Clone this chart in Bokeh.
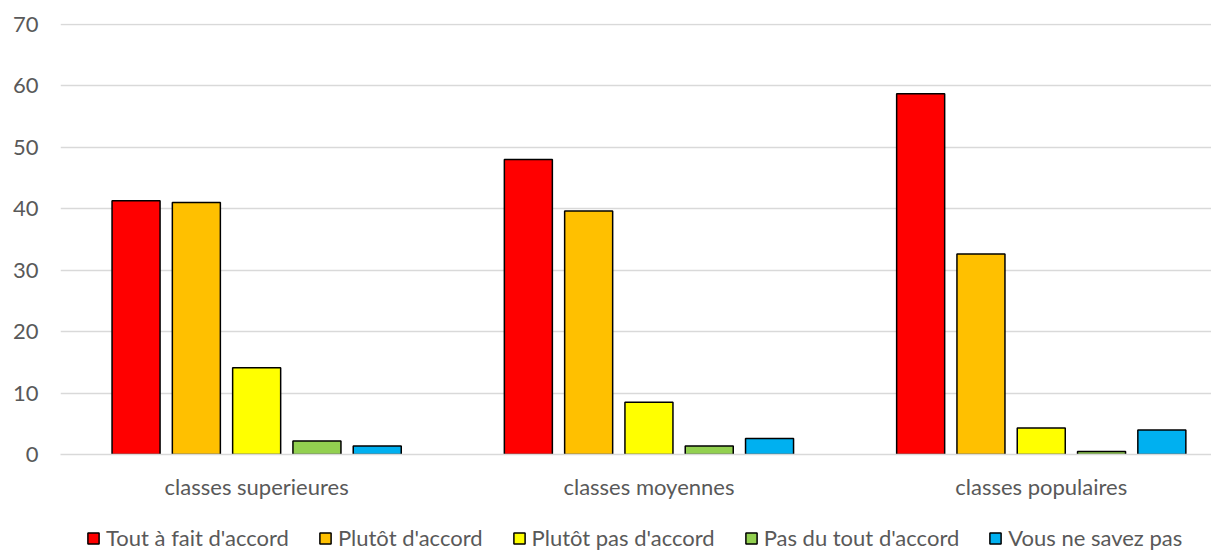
import numpy as np
from bokeh.plotting import figure
from bokeh.layouts import column
from bokeh.models import Range1d, Legend, LegendItem, ColumnDataSource, FixedTicker
from bokeh.embed import file_html
from bokeh.resources import INLINE

groups = ["classes superieures", "classes moyennes", "classes populaires"]
series_names = ["Tout à fait d'accord", "Plutôt d'accord", "Plutôt pas d'accord",
                "Pas du tout d'accord", "Vous ne savez pas"]
tout_a_fait = [41.3, 48.0, 58.7]
plutot = [41.0, 39.6, 32.6]
plutot_pas = [14.1, 8.5, 4.3]
pas_du_tout = [2.2, 1.4, 0.5]
ne_sait_pas = [1.4, 2.6, 4.0]
y_ticks = [0, 10, 20, 30, 40, 50, 60, 70]

colors = ["#FF0000", "#FFC000", "#FFFF00", "#92D050", "#00B0F0"]
values = [tout_a_fait, plutot, plutot_pas, pas_du_tout, ne_sait_pas]

FONT = "Lato"
TXT = "#595959"

W = 1211
H1, HL = 504, 46
LEFT, TOP = 60, 23
BOTTOM = H1 - 454
cat_px = 392.3  # pixel width of one category slot
x_end = (W - LEFT) / cat_px

p = figure(x_range=Range1d(0, x_end), y_range=Range1d(0, 70.12),
           width=W, height=H1, output_backend="svg", toolbar_location=None,
           min_border_left=LEFT, min_border_right=0, min_border_top=TOP,
           min_border_bottom=BOTTOM)

centers = np.arange(len(groups)) + 0.5
pitch = 0.1537
bw = 0.1224
for i, (vals, c) in enumerate(zip(values, colors)):
    src = ColumnDataSource(dict(x=centers + (i - 2) * pitch, top=vals))
    p.vbar(x="x", top="top", width=bw, source=src,
           fill_color=c, line_color="#000000", line_width=1.5)

p.outline_line_color = None
p.xgrid.grid_line_color = None
p.ygrid.grid_line_color = "#D9D9D9"
p.ygrid.grid_line_width = 1.5
p.yaxis.ticker = FixedTicker(ticks=y_ticks)
p.yaxis.axis_line_color = None
p.yaxis.major_tick_line_color = None
p.yaxis.minor_tick_line_color = None
p.yaxis.major_tick_out = 0
p.yaxis.major_label_standoff = 22
p.xaxis.ticker = FixedTicker(ticks=list(centers))
p.xaxis.major_label_overrides = {float(c): g for c, g in zip(centers, groups)}
p.xaxis.axis_line_color = "#D9D9D9"
p.xaxis.axis_line_width = 1.5
p.xaxis.major_tick_line_color = None
p.xaxis.minor_tick_line_color = None
p.xaxis.major_tick_out = 0
p.xaxis.major_label_standoff = 18
for ax in (p.xaxis, p.yaxis):
    ax.major_label_text_font = FONT
    ax.major_label_text_font_size = "22px"
    ax.major_label_text_color = TXT

# legend strip (frame is aligned with the main plot's frame by the column layout)
lf = figure(x_range=Range1d(0, 1), y_range=Range1d(0, 1), width=W, height=HL,
            output_backend="svg", toolbar_location=None,
            x_axis_location=None, y_axis_location=None,
            min_border_left=0, min_border_right=0, min_border_top=0, min_border_bottom=0)
lf.outline_line_color = None
lf.xgrid.grid_line_color = None
lf.ygrid.grid_line_color = None
items = []
for c, n in zip(colors, series_names):
    r = lf.vbar(x=[np.nan], top=[np.nan], width=0.1, fill_color=c,
                line_color="#000000", line_width=1.5)
    items.append(LegendItem(label=n, renderers=[r]))

legend = Legend(items=items, orientation="horizontal", location=(26, -1),
                border_line_color=None, background_fill_alpha=0,
                label_text_font=FONT, label_text_font_size="22px", label_text_color=TXT,
                glyph_width=14, glyph_height=14, label_standoff=6, spacing=29,
                padding=0, margin=0)
lf.add_layout(legend, "center")

layout = column(p, lf, spacing=0)
open("out.html", "w").write(file_html(layout, INLINE))
